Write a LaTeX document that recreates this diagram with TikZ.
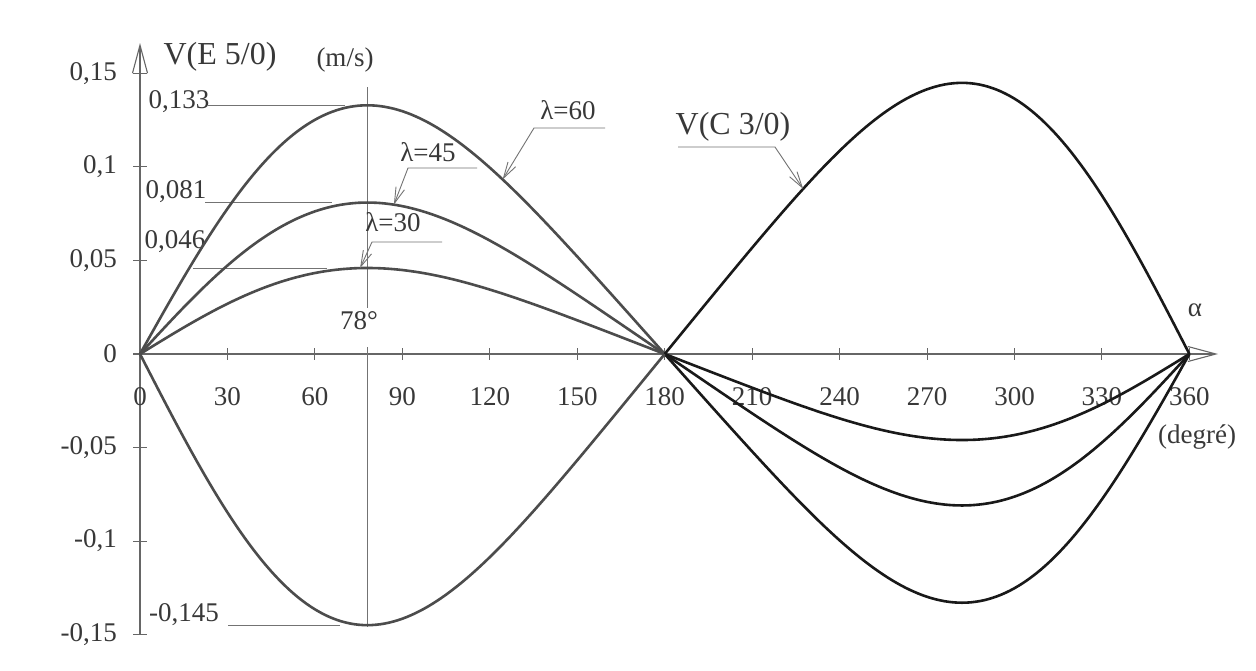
\documentclass[tikz,border=0pt]{standalone}
\usepackage{fontspec}
\setmainfont{Liberation Serif}
\usetikzlibrary{arrows.meta}
\begin{document}
\begin{tikzpicture}[x=1pt,y=-1pt,
  declare function={px(\xa)=140+2.915*\xa; py(\ya)=354-1870*\ya; ff(\za)=sin(\za)+0.1138*sin(2*\za);},
  curveL/.style={line width=2.6pt, draw=black!70, line join=round},
  curveR/.style={line width=2.6pt, draw=black!90, line join=round},
  axisline/.style={line width=1.1pt, draw=black!60},
  tickmark/.style={line width=1pt, draw=black!60},
  leader/.style={line width=0.9pt, draw=black!55},
  ptr/.style={leader, -{Straight Barb[length=16pt,width=9pt,line width=0.9pt]}},
  axarrow/.style={axisline, -{Straight Barb[length=28pt,width=15pt,line width=1.1pt]}},
  lbl/.style={inner sep=0pt, text=black!78, font=\fontsize{27}{30}\selectfont},
  big/.style={inner sep=0pt, text=black!78, font=\fontsize{32}{36}\selectfont}
]
\fill[white] (0,0) rectangle (1256,670);
\useasboundingbox (0,0) rectangle (1256,670);

% axes
\coordinate (xs) at (133,354);
\coordinate (xe) at (1218,354);
\coordinate (ys) at (140,{py(-0.15)});
\coordinate (ye) at (140,43);
\draw[axarrow] (xs) -- (xe);
\draw[axarrow] (ys) -- (ye);

% x ticks and labels
\foreach \d in {30,60,...,360} \draw[tickmark] ({px(\d)},348) -- ({px(\d)},360);
\foreach \d in {0,30,...,360} \node[lbl] (xl\d) at ({px(\d)},397) {\d};

% y ticks and labels
\foreach \v in {0.15,0.1,0.05,-0.05,-0.1,-0.15} \draw[tickmark] (133,{py(\v)}) -- (147,{py(\v)});
\foreach \v/\t [count=\i] in {0.15/{0,15},0.1/{0,1},0.05/{0,05},0/0,-0.05/{-0,05},-0.1/{-0,1},-0.15/{-0,15}}
  \node[lbl,anchor=east] (yl\i) at (117,{py(\v)}) {\t};

% axis titles
\node[big] (ttl) at (220,57) {V(E 5/0)};
\node[lbl] (unit) at (345,60) {(m/s)};
\node[lbl] (alpha) at (1195,310) {α};
\node[lbl] (deg) at (1197,437) {(degré)};

% 78 degree reference line
\coordinate (m1) at ({px(78)},87);
\coordinate (m2) at ({px(78)},308);
\coordinate (m3) at ({px(78)},347);
\coordinate (m4) at ({px(78)},627);
\draw[leader] (m1) -- (m2);
\draw[leader] (m3) -- (m4);
\node[lbl] (n78) at (359,321) {78°};

% value labels with leaders
\node[lbl] (v133) at (179,102) {0,133};
\coordinate (h133a) at (208,{py(0.133)});
\coordinate (h133b) at (345,{py(0.133)});
\draw[leader] (h133a) -- (h133b);
\node[lbl] (v081) at (176,192) {0,081};
\coordinate (h081a) at (205,{py(0.081)});
\coordinate (h081b) at (332,{py(0.081)});
\draw[leader] (h081a) -- (h081b);
\node[lbl] (v046) at (175,242) {0,046};
\coordinate (h046a) at (193,{py(0.046)});
\coordinate (h046b) at (327,{py(0.046)});
\draw[leader] (h046a) -- (h046b);
\node[lbl] (v145) at (184,615) {-0,145};
\coordinate (h145a) at (228,{py(-0.145)});
\coordinate (h145b) at (340,{py(-0.145)});
\draw[leader] (h145a) -- (h145b);

% curves
\draw[curveL] plot[domain=0:180,samples=121] ({px(\x)},{py(0.0449*ff(\x))});
\draw[curveR] plot[domain=180:360,samples=121] ({px(\x)},{py(0.0449*ff(\x))});
\draw[curveL] plot[domain=0:180,samples=121] ({px(\x)},{py(0.07907*ff(\x))});
\draw[curveR] plot[domain=180:360,samples=121] ({px(\x)},{py(0.07907*ff(\x))});
\draw[curveL] plot[domain=0:180,samples=121] ({px(\x)},{py(0.12983*ff(\x))});
\draw[curveR] plot[domain=180:360,samples=121] ({px(\x)},{py(0.12983*ff(\x))});
\draw[curveL] plot[domain=0:180,samples=121] ({px(\x)},{py(-0.14155*ff(\x))});
\draw[curveR] plot[domain=180:360,samples=121] ({px(\x)},{py(-0.14155*ff(\x))});

% curve labels with pointers
\node[lbl] (l30) at (393,222) {λ=30};
\coordinate (k30a) at (442,242);
\coordinate (k30b) at (372,242);
\coordinate (t30) at ({px(75.5)},{py(0.0449*ff(75.5))});
\draw[ptr] (k30a) -- (k30b) -- (t30);

\node[lbl] (l45) at (428,152) {λ=45};
\coordinate (k45a) at (477,168);
\coordinate (k45b) at (408,168);
\coordinate (t45) at ({px(87.1)},{py(0.07907*ff(87.1))});
\draw[ptr] (k45a) -- (k45b) -- (t45);

\node[lbl] (l60) at (568,110) {λ=60};
\coordinate (k60a) at (605,128);
\coordinate (k60b) at (534,128);
\coordinate (t60) at ({px(124.4)},{py(0.12983*ff(124.4))});
\draw[ptr] (k60a) -- (k60b) -- (t60);

\node[big] (lC) at (733,127) {V(C 3/0)};
\coordinate (kCa) at (678,147);
\coordinate (kCb) at (775,147);
\coordinate (tC) at ({px(227.5)},{py(-0.14155*ff(227.5))});
\draw[ptr] (kCa) -- (kCb) -- (tC);
\end{tikzpicture}
\end{document}
